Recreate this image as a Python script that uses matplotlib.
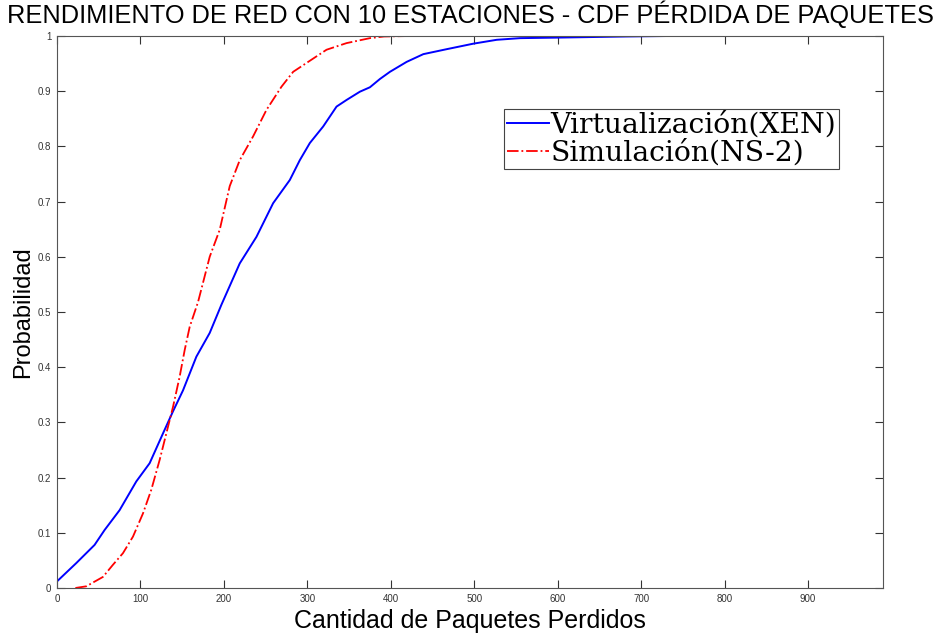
import matplotlib
matplotlib.use("Agg")
import matplotlib.pyplot as plt

# CDF
xen_x = [0, 23, 45, 57, 75, 95, 111, 127, 139, 151, 167, 183, 197,
         219, 239, 259, 279, 291, 303, 319, 335, 347, 363, 375, 387,
         399, 419, 439, 467, 499, 527, 555, 601, 683, 739, 990]
xen_p = [0.012, 0.045, 0.078, 0.105, 0.141, 0.193, 0.226, 0.28, 0.32,
         0.358, 0.419, 0.462, 0.513, 0.588, 0.636, 0.697, 0.739, 0.775,
         0.806, 0.836, 0.872, 0.884, 0.899, 0.907, 0.922, 0.935, 0.953,
         0.967, 0.976, 0.986, 0.993, 0.996, 0.997, 0.999, 1.0, 1.0]

ns2_x = [22, 35, 55, 67, 79, 91, 103, 113, 123, 131, 139, 147, 153,
         159, 169, 183, 195, 207, 219, 235, 251, 269, 283, 299, 323,
         347, 375, 392, 427, 990]
ns2_p = [0.0, 0.003, 0.02, 0.042, 0.063, 0.093, 0.135, 0.178, 0.232,
         0.28, 0.328, 0.383, 0.431, 0.473, 0.518, 0.6, 0.649, 0.728,
         0.775, 0.818, 0.866, 0.908, 0.935, 0.951, 0.975, 0.987, 0.996,
         0.999, 1.0, 1.0]

x_ticks = [0, 100, 200, 300, 400, 500, 600, 700, 800, 900]
y_ticks = [0, 0.1, 0.2, 0.3, 0.4, 0.5, 0.6, 0.7, 0.8, 0.9, 1]
y_labels = ["0", "0.1", "0.2", "0.3", "0.4", "0.5", "0.6", "0.7", "0.8", "0.9", "1"]

fig = plt.figure(figsize=(9.38, 6.36), dpi=100)
ax = fig.add_axes([0.0608, 0.0755, 0.8806, 0.868])

ax.plot(xen_x, xen_p, color="#0000ff", lw=1.4, label="Virtualización(XEN)")
ax.plot(ns2_x, ns2_p, color="#ff0000", lw=1.3, linestyle="-.",
        label="Simulación(NS-2)")

ax.set_xlim(0, 990)
ax.set_ylim(0, 1)
ax.set_xticks(x_ticks)
ax.set_yticks(y_ticks)
ax.set_yticklabels(y_labels)
ax.tick_params(direction="in", top=True, right=True, length=6,
               labelsize=7, colors="#333333", pad=4)
for lab in ax.get_xticklabels() + ax.get_yticklabels():
    lab.set_family("Liberation Sans")
for s in ax.spines.values():
    s.set_color("#555555")

ax.set_title("RENDIMIENTO DE RED CON 10 ESTACIONES - CDF PÉRDIDA DE PAQUETES",
             fontsize=18.3, family="Liberation Sans", pad=9)
ax.set_xlabel("Cantidad de Paquetes Perdidos", fontsize=18,
              family="Liberation Sans", labelpad=4)
ax.set_ylabel("Probabilidad", fontsize=17, family="Liberation Sans",
              labelpad=3)

leg = ax.legend(loc="upper left", bbox_to_anchor=(0.541, 0.868),
                prop={"family": "DejaVu Serif", "size": 20.3},
                fancybox=False, edgecolor="#444444", framealpha=1,
                handlelength=1.5, handletextpad=0.05, borderpad=0.1,
                labelspacing=0.0, borderaxespad=0)
leg.get_frame().set_linewidth(0.8)

fig.savefig("out.png", dpi=100)
